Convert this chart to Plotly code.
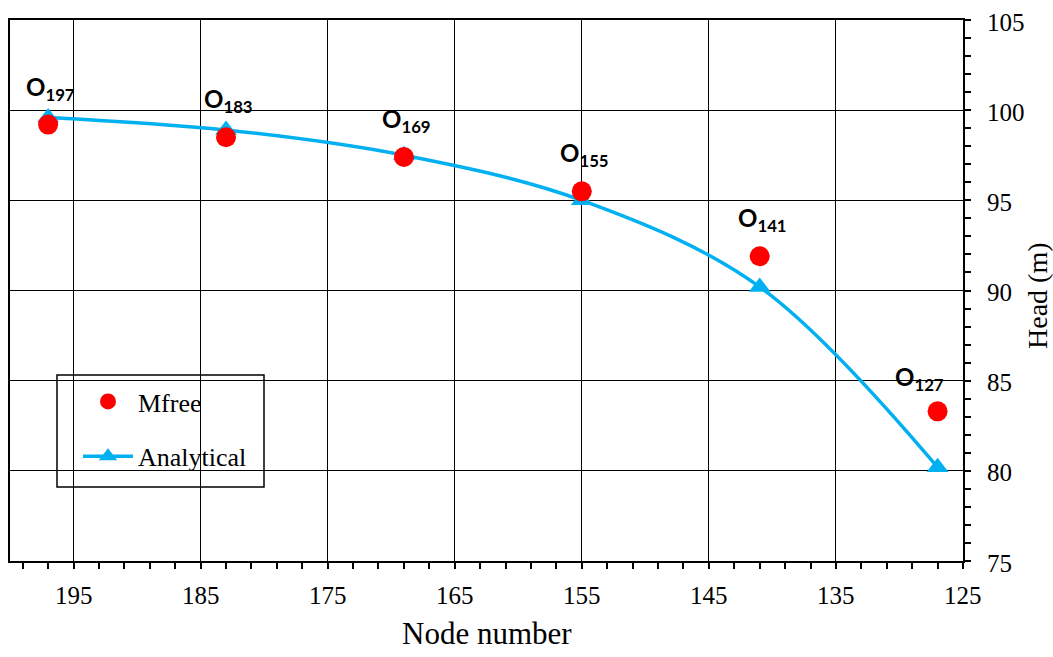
import plotly.graph_objects as go

nodes = [197, 183, 169, 155, 141, 127]
mfree = [99.2, 98.5, 97.4, 95.5, 91.9, 83.3]
analytical = [99.6, 98.9, 97.5, 95.0, 90.2, 80.2]
labels = ["197", "183", "169", "155", "141", "127"]
x_ticks = [195, 185, 175, 165, 155, 145, 135, 125]
y_ticks = [75, 80, 85, 90, 95, 100, 105]

SERIF = "Liberation Serif"

fig = go.Figure()
fig.add_trace(go.Scatter(
    x=nodes, y=analytical, name="Analytical", mode="lines+markers",
    line=dict(color="#00B0F0", width=3.5, shape="spline", smoothing=1.0),
    marker=dict(symbol="triangle-up", size=19, color="#00B0F0"),
    legendgroup="a", legendrank=2,
))
fig.add_trace(go.Scatter(
    x=nodes, y=mfree, name="Mfree", mode="markers",
    marker=dict(symbol="circle", size=20, color="#FF0000"),
    legendgroup="m", legendrank=1,
))

for i, (n, v, lab) in enumerate(zip(nodes, mfree, labels)):
    last = i == len(nodes) - 1
    fig.add_annotation(
        x=n, y=v, text="<b>O<sub>%s</sub></b>" % lab, showarrow=False,
        xanchor="left", yanchor="bottom",
        xshift=-45 if last else -24, yshift=14 if last else 18,
        font=dict(family="Lato", size=24, color="black"),
    )

# tick labels
for t in x_ticks:
    fig.add_annotation(x=t, y=0, xref="x", yref="paper", text=str(t), showarrow=False,
                       xanchor="center", yanchor="middle", yshift=-34,
                       font=dict(family=SERIF, size=25, color="black"))
for t in y_ticks:
    fig.add_annotation(x=1, y=t, xref="paper", yref="y", text=str(t), showarrow=False,
                       xanchor="left", yanchor="middle", xshift=22, yshift=-2,
                       font=dict(family=SERIF, size=25, color="black"))

PL, PR, PT, PB = 10, 963, 20, 561
W, H = 1053, 657
pw, ph = PR - PL, PB - PT

def px(x):
    return (x - PL) / pw

def py(y):
    return (PB - y) / ph

fig.add_annotation(x=0.5, y=0, xref="paper", yref="paper", text="Node number",
                   showarrow=False, xanchor="center", yanchor="middle", yshift=-72,
                   font=dict(family=SERIF, size=31, color="black"))
fig.add_annotation(x=1, y=py(296), xref="paper", yref="paper", text="Head (m)",
                   showarrow=False, xanchor="center", yanchor="middle", xshift=74,
                   textangle=-90, font=dict(family=SERIF, size=28, color="black"))

fig.add_shape(type="rect", xref="paper", yref="paper",
              x0=px(57), x1=px(264), y0=py(487), y1=py(375),
              line=dict(color="black", width=1.5), fillcolor="white", layer="below")

common = dict(
    showline=True, linecolor="black", linewidth=1.5, mirror=True,
    showgrid=True, gridcolor="black", gridwidth=1.2, zeroline=False,
    ticks="outside", ticklen=6, tickwidth=1.5, tickcolor="black",
    showticklabels=False, tickmode="linear",
)

fig.update_layout(
    xaxis=dict(
        range=[200, 125], tick0=125, dtick=10,
        minor=dict(dtick=2, tick0=125, ticks="outside", ticklen=6, tickwidth=1.5,
                   tickcolor="black", showgrid=False),
        **common,
    ),
    yaxis=dict(
        range=[75, 105], tick0=75, dtick=5, side="right",
        minor=dict(dtick=1, tick0=75, ticks="outside", ticklen=6, tickwidth=1.5,
                   tickcolor="black", showgrid=False),
        **common,
    ),
    width=W, height=H,
    margin=dict(l=PL, r=W - PR, t=PT, b=H - PB, autoexpand=False),
    font=dict(family=SERIF, size=22, color="black"),
    paper_bgcolor="white", plot_bgcolor="white",
    showlegend=True,
    legend=dict(
        x=px(78), y=py(378), xanchor="left", yanchor="top",
        bgcolor="rgba(0,0,0,0)", borderwidth=0,
        font=dict(family=SERIF, size=26, color="black"),
        traceorder="grouped", tracegroupgap=18, itemwidth=50,
    ),
)

fig.write_html(
    "out.html",
    config={"displayModeBar": False},
    post_script="document.body.style.margin='0';document.body.style.overflow='hidden';",
)
